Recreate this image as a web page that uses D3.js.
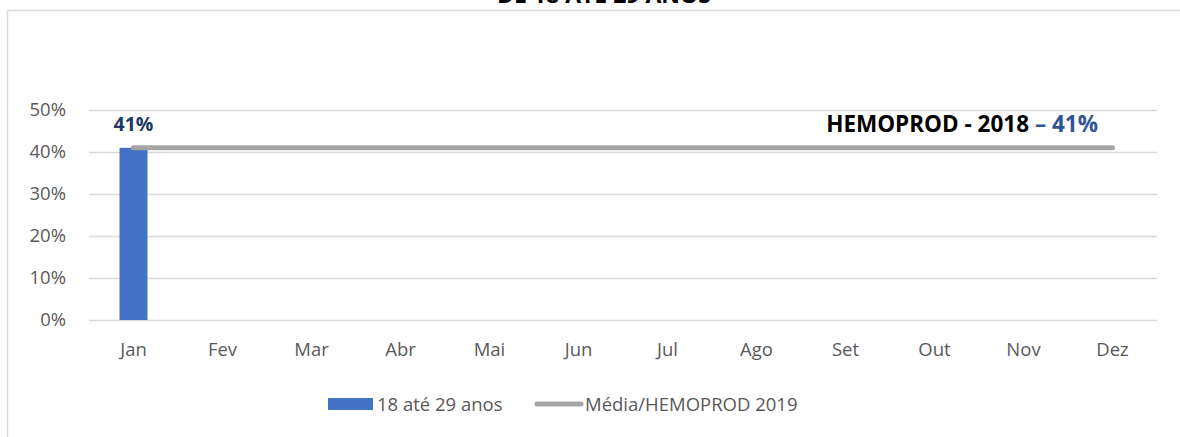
<!DOCTYPE html>
<html><head><meta charset="utf-8">
<script src="https://cdn.jsdelivr.net/npm/d3@7"></script>
<style>
html,body{margin:0;padding:0;background:#fff;}
svg{display:block;font-family:"Open Sans","Noto Sans",sans-serif;}
</style></head>
<body>
<svg id="c" width="1180" height="437"></svg>
<script>
const titleText = "DE 18 ATÉ 29 ANOS";
const months = ["Jan","Fev","Mar","Abr","Mai","Jun","Jul","Ago","Set","Out","Nov","Dez"];
const barValues = [0.41, null, null, null, null, null, null, null, null, null, null, null];
const avgValues = [0.41,0.41,0.41,0.41,0.41,0.41,0.41,0.41,0.41,0.41,0.41,0.41];
const yTicks = [0,0.1,0.2,0.3,0.4,0.5];
const barSeriesName = "18 até 29 anos";
const lineSeriesName = "Média/HEMOPROD 2019";
const annotationMain = "HEMOPROD - 2018 ";
const annotationValue = "– 41%";

const svg = d3.select("#c");
const W = 1180, H = 437;
const labelFont = "'Open Sans', sans-serif";
const boldFont = "'Open Sans', sans-serif";

// outer border (top and left visible)
svg.append("line").attr("x1",7.5).attr("x2",W).attr("y1",10.5).attr("y2",10.5).attr("stroke","#d9d9d9").attr("stroke-width",1.5);
svg.append("line").attr("x1",7.5).attr("x2",7.5).attr("y1",10.5).attr("y2",H).attr("stroke","#d9d9d9").attr("stroke-width",1.5);

// title (cut off at top, as in the reference)
svg.append("text").attr("x",604).attr("y",3).attr("text-anchor","middle")
  .attr("font-family",boldFont).attr("font-weight","bold").attr("font-size",23).attr("fill","#000").text(titleText);

const x = d3.scaleBand().domain(months).range([89,1157]).paddingInner(0).paddingOuter(0);
const y = d3.scaleLinear().domain([0,0.5]).range([320,110]);

// gridlines
svg.append("g").selectAll("line").data(yTicks).join("line")
  .attr("x1",89).attr("x2",1157).attr("y1",d=>Math.round(y(d))+0.5).attr("y2",d=>Math.round(y(d))+0.5)
  .attr("stroke","#d9d9d9").attr("stroke-width",1.5);

// y axis labels
const yAxis = d3.axisLeft(y).tickValues(yTicks).tickFormat(d3.format(".0%")).tickSize(0).tickPadding(0);
const ga = svg.append("g").attr("transform","translate(66,0)").call(yAxis);
ga.select(".domain").remove();
ga.selectAll("text").attr("font-family",labelFont).attr("font-size",18.5).attr("fill","#595959");

// x axis labels
const xAxis = d3.axisBottom(x).tickSize(0).tickPadding(0);
const gx = svg.append("g").attr("transform","translate(0,343)").call(xAxis);
gx.select(".domain").remove();
gx.selectAll("text").attr("font-family",labelFont).attr("font-size",18.5).attr("fill","#595959");

// bars
const barW = 28;
svg.append("g").selectAll("rect").data(months.map((m,i)=>({m,v:barValues[i]})).filter(d=>d.v!=null)).join("rect")
  .attr("x",d=>x(d.m)+x.bandwidth()/2-barW/2).attr("width",barW)
  .attr("y",d=>y(d.v)).attr("height",d=>y(0)-y(d.v)).attr("fill","#4472c4");

// bar labels
svg.append("g").selectAll("text").data(months.map((m,i)=>({m,v:barValues[i]})).filter(d=>d.v!=null)).join("text")
  .attr("x",d=>x(d.m)+x.bandwidth()/2).attr("y",d=>y(d.v)-17)
  .attr("text-anchor","middle").attr("font-family",boldFont).attr("font-weight","bold").attr("font-size",19.5)
  .attr("fill","#203864").text(d=>d3.format(".0%")(d.v));

// average line
const line = d3.line().x((d,i)=>x(months[i])+x.bandwidth()/2).y(d=>y(d));
svg.append("path").datum(avgValues).attr("d",line).attr("fill","none").attr("stroke","#a5a5a5").attr("stroke-width",5).attr("stroke-linecap","round");

// annotation
const ann = svg.append("text").attr("x",1098).attr("y",132).attr("text-anchor","end")
  .attr("font-family",boldFont).attr("font-weight","bold").attr("font-size",22.5);
ann.append("tspan").attr("fill","#000").text(annotationMain);
ann.append("tspan").attr("fill","#2f5597").text(annotationValue);

// legend
const lg = svg.append("g");
lg.append("rect").attr("x",328).attr("y",398).attr("width",45).attr("height",12).attr("fill","#4472c4");
lg.append("text").attr("x",377).attr("y",411).attr("font-family",labelFont).attr("font-size",18.5).attr("fill","#595959").text(barSeriesName);
lg.append("line").attr("x1",537).attr("x2",581).attr("y1",404).attr("y2",404).attr("stroke","#a5a5a5").attr("stroke-width",5).attr("stroke-linecap","round");
lg.append("text").attr("x",585).attr("y",411).attr("font-family",labelFont).attr("font-size",18.5).attr("fill","#595959").text(lineSeriesName);
</script>
</body></html>
